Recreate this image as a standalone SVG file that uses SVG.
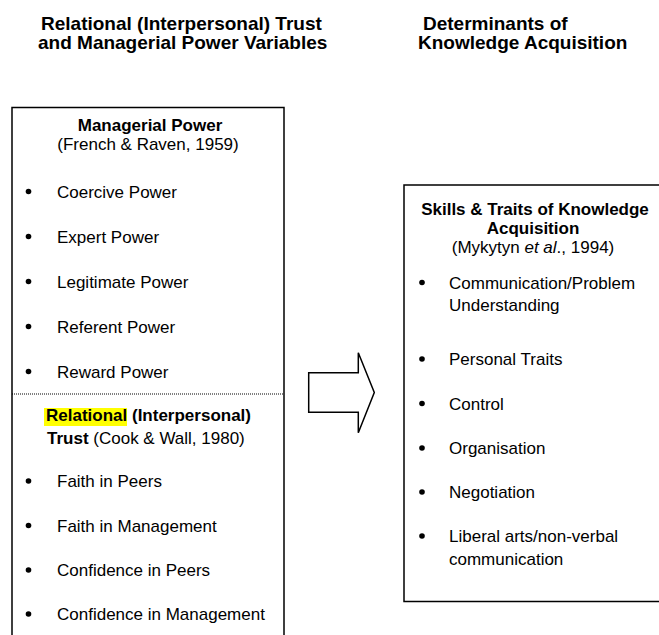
<svg xmlns="http://www.w3.org/2000/svg" width="659" height="635" viewBox="0 0 659 635">
<style>
text{font-family:"Liberation Sans",Arial,sans-serif;fill:#000;font-size:17px}
.h{font-size:19px;font-weight:bold}
.b{font-weight:bold}
.box{fill:#fff;stroke:#000;stroke-width:1.5}
.dot{fill:#000}
</style>
<rect width="659" height="635" fill="#fff"/>
<g id="title-left">
<text class="h" x="41" y="30">Relational (Interpersonal) Trust</text>
<text class="h" x="38" y="49">and Managerial Power Variables</text>
</g>
<g id="title-right">
<text class="h" x="423" y="30">Determinants of</text>
<text class="h" x="418" y="49">Knowledge Acquisition</text>
</g>
<g id="left-box">
<path class="box" d="M12,640 V107.5 H284 V640"/>
<line x1="12" y1="394" x2="284" y2="394" stroke="#000" stroke-width="1" stroke-dasharray="1,1"/>
<text class="b" x="150" y="131" text-anchor="middle">Managerial Power</text>
<text x="148" y="150" text-anchor="middle">(French &amp; Raven, 1959)</text>
<circle class="dot" cx="28.5" cy="191.5" r="2.8"/><text x="57" y="197.5">Coercive Power</text>
<circle class="dot" cx="28.5" cy="236.5" r="2.8"/><text x="57" y="242.5">Expert Power</text>
<circle class="dot" cx="28.5" cy="281.5" r="2.8"/><text x="57" y="287.5">Legitimate Power</text>
<circle class="dot" cx="28.5" cy="326.5" r="2.8"/><text x="57" y="332.5">Referent Power</text>
<circle class="dot" cx="28.5" cy="371.5" r="2.8"/><text x="57" y="377.5">Reward Power</text>
<rect x="44" y="408" width="83" height="18" fill="#ffff00"/>
<text class="b" x="46" y="421">Relational <tspan>(Interpersonal)</tspan></text>
<text x="47" y="443.5"><tspan class="b">Trust</tspan> (Cook &amp; Wall, 1980)</text>
<circle class="dot" cx="28.5" cy="481" r="2.8"/><text x="57" y="487">Faith in Peers</text>
<circle class="dot" cx="28.5" cy="525.5" r="2.8"/><text x="57" y="531.5">Faith in Management</text>
<circle class="dot" cx="28.5" cy="570" r="2.8"/><text x="57" y="576">Confidence in Peers</text>
<circle class="dot" cx="28.5" cy="614" r="2.8"/><text x="57" y="620">Confidence in Management</text>
</g>
<g id="connectors">
<polygon class="box" points="308.7,372.7 358.3,372.7 358.3,352.7 374.3,392.5 358.3,432.7 358.3,412.3 308.7,412.3"/>
</g>
<g id="right-box">
<path class="box" d="M662,185 H404 V601.5 H662"/>
<text class="b" x="535" y="215" text-anchor="middle">Skills &amp; Traits of Knowledge</text>
<text class="b" x="533" y="234" text-anchor="middle">Acquisition</text>
<text x="533" y="253" text-anchor="middle">(Mykytyn <tspan font-style="italic">et al</tspan>., 1994)</text>
<circle class="dot" cx="422" cy="282.5" r="2.8"/><text x="449" y="288.5">Communication/Problem</text>
<text x="449" y="311">Understanding</text>
<circle class="dot" cx="422" cy="359" r="2.8"/><text x="449" y="365">Personal Traits</text>
<circle class="dot" cx="422" cy="403.5" r="2.8"/><text x="449" y="409.5">Control</text>
<circle class="dot" cx="422" cy="448" r="2.8"/><text x="449" y="454">Organisation</text>
<circle class="dot" cx="422" cy="492" r="2.8"/><text x="449" y="498">Negotiation</text>
<circle class="dot" cx="422" cy="536" r="2.8"/><text x="449" y="542">Liberal arts/non-verbal</text>
<text x="449" y="565">communication</text>
</g>
</svg>
